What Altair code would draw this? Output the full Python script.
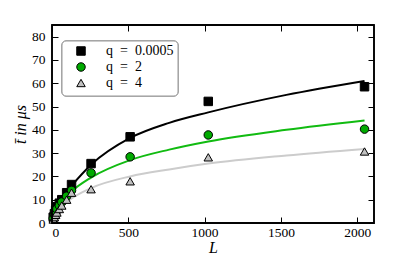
import altair as alt
import pandas as pd

# measured points
L_vals = [8, 16, 24, 32, 48, 64, 96, 128, 256, 512, 1024, 2048]
t_q0005 = [2.5, 4.0, 5.5, 7.0, 8.5, 10.0, 13.0, 16.5, 25.5, 37.0, 52.2, 58.5]
t_q2 = [2.0, 3.5, 4.5, 6.0, 7.5, 9.0, 11.5, 14.0, 21.5, 28.4, 37.8, 40.3]
t_q4 = [1.5, 2.5, 3.5, 4.5, 6.0, 7.5, 10.0, 13.0, 14.5, 17.9, 28.2, 30.7]

# fitted curves
fit_L = [4, 16, 32, 64, 128, 256, 512, 768, 1024, 1536, 2048]
fit_q0005 = [1.5, 4.5, 7.0, 11.0, 16.0, 25.0, 36.5, 43.0, 47.5, 55.0, 61.0]
fit_q2 = [1.5, 4.0, 6.0, 9.0, 13.5, 19.5, 27.0, 31.5, 35.0, 40.0, 44.0]
fit_q4 = [1.0, 3.0, 4.5, 7.0, 10.5, 15.0, 20.0, 23.0, 25.5, 29.0, 31.8]

labels = ["q\u2002=\u20020.0005", "q\u2002=\u20022", "q\u2002=\u20024"]
fills = ["#000000", "#00aa00", "#c0c0c0"]
line_colors = ["#000000", "#11bb11", "#cccccc"]
shapes = ["square", "circle", "triangle-up"]

pts = pd.DataFrame(
    [{"L": l, "t": v, "q": labels[i]}
     for i, series in enumerate([t_q0005, t_q2, t_q4])
     for l, v in zip(L_vals, series)]
)
fits = pd.DataFrame(
    [{"L": l, "t": v, "fit": labels[i]}
     for i, series in enumerate([fit_q0005, fit_q2, fit_q4])
     for l, v in zip(fit_L, series)]
)
legend_df = pd.DataFrame({"q": labels, "row": list(range(len(labels)))})

W, H = 322, 198
FONT = "Liberation Serif, Times New Roman, serif"
xscale = alt.Scale(domain=[0, 2110], nice=False, zero=False)
yscale = alt.Scale(domain=[0, 85], nice=False, zero=False)
xticks = [0, 500, 1000, 1500, 2000]
yticks = [0, 10, 20, 30, 40, 50, 60, 70, 80]
fill_scale = alt.Scale(domain=labels, range=fills)
shape_scale = alt.Scale(domain=labels, range=shapes)

common_axis = dict(domain=False, grid=False, tickSize=6, offset=-6,
                   tickColor="black", tickWidth=1, labelFont=FONT,
                   labelFontSize=13.5, labelColor="black", format="d")

lines = alt.Chart(fits).mark_line(strokeWidth=2, interpolate="monotone").encode(
    x=alt.X("L:Q", scale=xscale,
            axis=alt.Axis(orient="bottom", values=xticks, labelPadding=2,
                          title="L", titleFont=FONT, titleFontStyle="italic",
                          titleFontSize=16, titleFontWeight="normal",
                          titlePadding=1, titleColor="black", **common_axis)),
    y=alt.Y("t:Q", scale=yscale,
            axis=alt.Axis(orient="left", values=yticks, labelPadding=7,
                          title="t\u0304 in \u03bcs", titleFont=FONT,
                          titleFontStyle="italic", titleFontSize=16,
                          titleFontWeight="normal", titlePadding=3,
                          titleColor="black", **common_axis)),
    color=alt.Color("fit:N", scale=alt.Scale(domain=labels, range=line_colors),
                    legend=None),
)

points = alt.Chart(pts).mark_point(filled=True, stroke="black", strokeWidth=1,
                                   size=72, opacity=1).encode(
    x=alt.X("L:Q", scale=xscale,
            axis=alt.Axis(orient="top", values=xticks, labels=False, title=None,
                          **common_axis)),
    y=alt.Y("t:Q", scale=yscale,
            axis=alt.Axis(orient="right", values=yticks, labels=False, title=None,
                          **common_axis)),
    fill=alt.Fill("q:N", scale=fill_scale, legend=None),
    shape=alt.Shape("q:N", scale=shape_scale, legend=None),
)

# legend (box, symbols, labels)
legend_box = alt.Chart(legend_df).mark_rect(
    fill="white", stroke="#999999", strokeWidth=1, cornerRadius=4
).encode(x=alt.value(10), x2=alt.value(126), y=alt.value(16), y2=alt.value(71))

legend_y = alt.Y("row:Q", scale=alt.Scale(domain=[0, 2], range=[26, 58]), axis=None)
legend_sym = alt.Chart(legend_df).mark_point(
    filled=True, stroke="black", strokeWidth=1, size=72, opacity=1
).encode(
    x=alt.value(29), y=legend_y,
    fill=alt.Fill("q:N", scale=fill_scale, legend=None),
    shape=alt.Shape("q:N", scale=shape_scale, legend=None),
)
legend_txt = alt.Chart(legend_df).mark_text(
    align="left", baseline="middle", font=FONT, fontSize=14, color="black"
).encode(x=alt.value(54), y=legend_y, text="q:N")

frame = alt.Chart(legend_df).mark_rect(
    fillOpacity=0, stroke="black", strokeWidth=1.3
).encode(x=alt.value(0), x2=alt.value(W), y=alt.value(0), y2=alt.value(H))

chart = alt.layer(lines, points, legend_box, legend_sym, legend_txt, frame).resolve_axis(
    x="independent", y="independent"
).resolve_scale(y="independent").properties(
    width=W, height=H, autosize="none", background="white",
    padding={"left": 44, "top": 17, "right": 33, "bottom": 40},
).configure_view(stroke=None)

chart.save("out.html", embed_options={"renderer": "svg", "actions": False})
